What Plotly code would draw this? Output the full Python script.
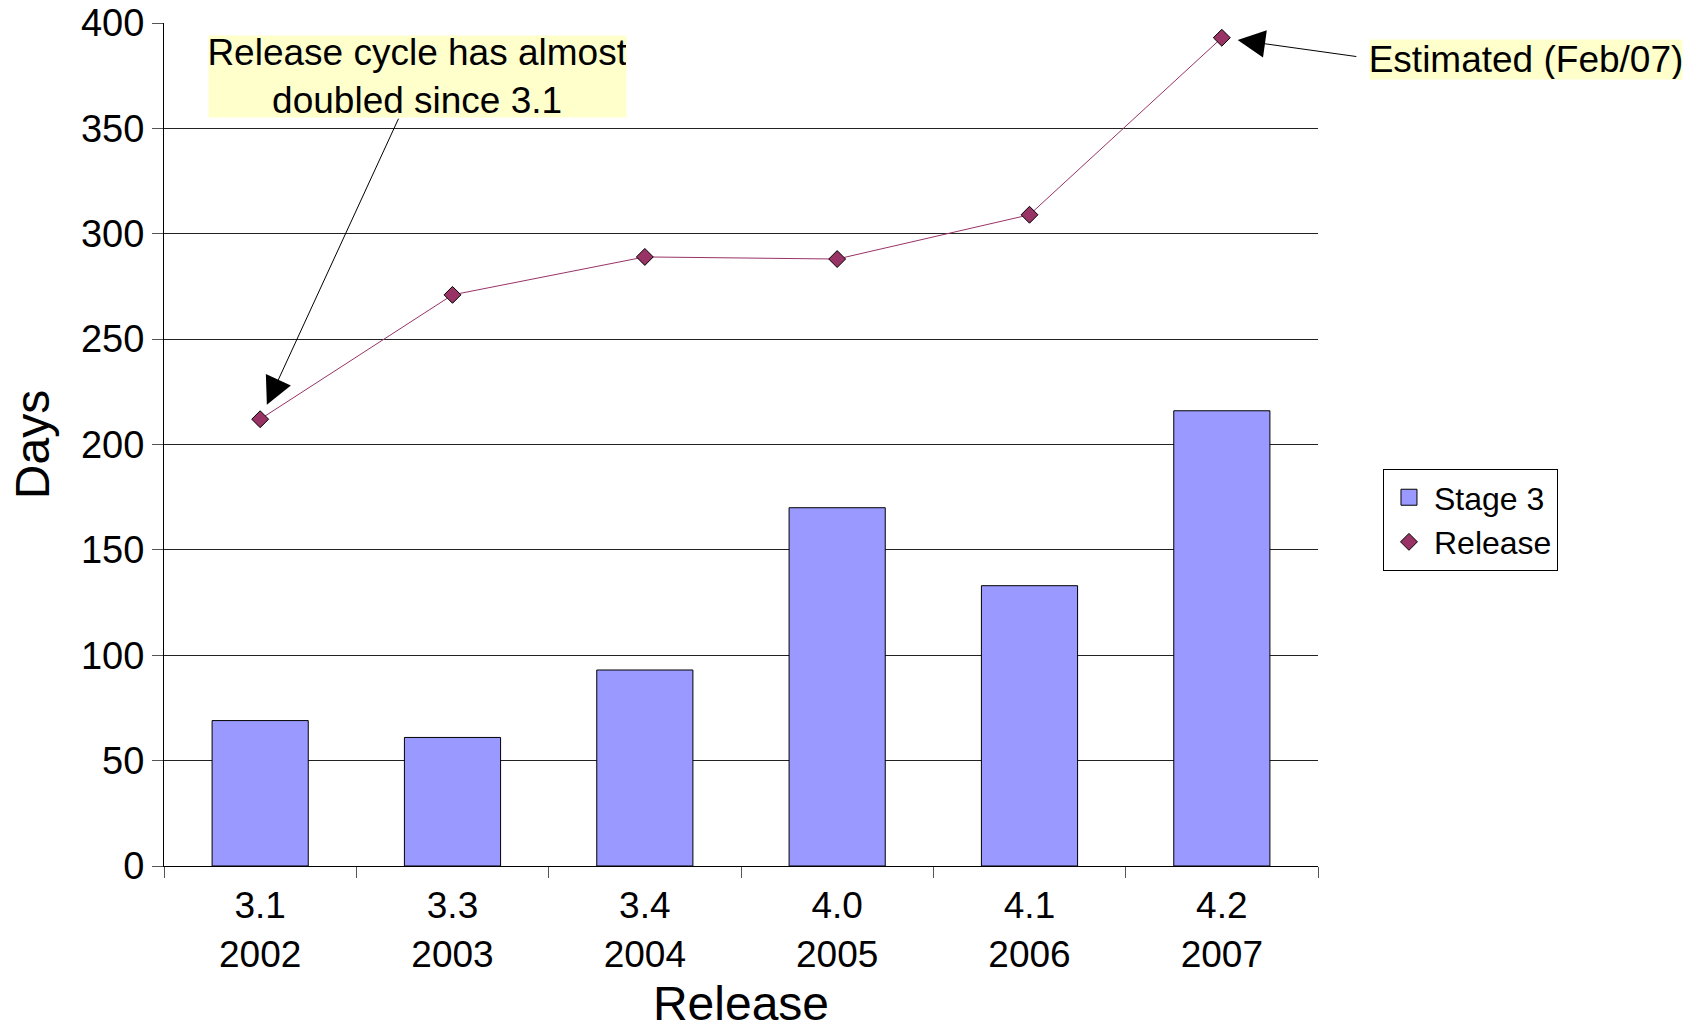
import plotly.graph_objects as go

releases = ["3.1<br>2002", "3.3<br>2003", "3.4<br>2004", "4.0<br>2005", "4.1<br>2006", "4.2<br>2007"]
stage3_days = [69, 61, 93, 170, 133, 216]
release_days = [212, 271, 289, 288, 309, 393]
y_ticks = [0, 50, 100, 150, 200, 250, 300, 350, 400]

FONT = "Liberation Sans, Arial, sans-serif"
BAR_COLOR = "#9999FF"
LINE_COLOR = "#993366"

fig = go.Figure()
fig.add_trace(go.Bar(
    x=releases, y=stage3_days, name="Stage 3", showlegend=False,
    marker=dict(color=BAR_COLOR, line=dict(color="#000000", width=1)),
))
fig.add_trace(go.Scatter(
    x=releases, y=release_days, name="Release", mode="lines+markers", showlegend=False,
    line=dict(color=LINE_COLOR, width=1),
    marker=dict(symbol="diamond", size=13, color=LINE_COLOR, line=dict(color="#000000", width=1)),
))
# legend entries (marker-only, like the original legend)
fig.add_trace(go.Scatter(
    x=[None], y=[None], name="Stage 3", mode="markers",
    marker=dict(symbol="square", size=16, color=BAR_COLOR, line=dict(color="#000000", width=1)),
))
fig.add_trace(go.Scatter(
    x=[None], y=[None], name="Release", mode="markers",
    marker=dict(symbol="diamond", size=13, color=LINE_COLOR, line=dict(color="#000000", width=1)),
))

# arrows
fig.add_annotation(x=releases[0], y=release_days[0], xref="x", yref="y", text="",
                   showarrow=True, axref="pixel", ayref="pixel", ax=139, ay=-302,
                   arrowhead=2, arrowsize=5.5, arrowwidth=1, arrowcolor="#000000", standoff=16)
fig.add_annotation(x=releases[5], y=release_days[5], xref="x", yref="y", text="",
                   showarrow=True, axref="pixel", ayref="pixel", ax=136, ay=19,
                   arrowhead=2, arrowsize=5.5, arrowwidth=1, arrowcolor="#000000", standoff=16)
# text boxes
fig.add_annotation(x=0.2196, y=0.937, xref="paper", yref="paper", xanchor="center", yanchor="middle",
                   text="Release cycle has almost<br>doubled since 3.1", showarrow=False,
                   bgcolor="#FFFFCC", font=dict(size=37, color="#000000", family=FONT),
                   width=417, height=81, borderpad=0, align="center")
fig.add_annotation(x=1.180, y=0.9567, xref="paper", yref="paper", xanchor="center", yanchor="middle",
                   text="Estimated (Feb/07)", showarrow=False,
                   bgcolor="#FFFFCC", font=dict(size=37, color="#000000", family=FONT),
                   width=312, height=39, borderpad=0, align="center")

fig.update_layout(
    width=1698, height=1030,
    margin=dict(l=164, r=380, t=23, b=164),
    paper_bgcolor="#FFFFFF", plot_bgcolor="#FFFFFF",
    font=dict(family=FONT, color="#000000", size=34),
    bargap=0.5,
    showlegend=True,
    legend=dict(x=1.0563, xanchor="left", y=0.471, yanchor="top",
                bgcolor="#FFFFFF", bordercolor="#000000", borderwidth=1,
                itemwidth=40, itemsizing="trace",
                font=dict(size=32, family=FONT, color="#000000")),
    xaxis=dict(
        type="category", range=[-0.5, 5.5], showline=True, linecolor="#000000", linewidth=1,
        ticks="outside", tickson="boundaries", ticklen=11, tickcolor="#555555",
        showgrid=False, tickfont=dict(size=37), ticklabelstandoff=7,
        title=dict(text="Release", font=dict(size=48), standoff=17),
        automargin=False,
    ),
    yaxis=dict(
        range=[0, 400], tickvals=y_ticks, showline=True, linecolor="#000000", linewidth=1,
        ticks="outside", ticklen=11, tickcolor="#555555",
        showgrid=True, gridcolor="#222222", gridwidth=1, zeroline=False,
        tickfont=dict(size=38),
        title=dict(text="Days", font=dict(size=48), standoff=16),
        automargin=False,
    ),
)

fig.write_html("out.html", config={"displayModeBar": False},
               post_script="document.body.style.margin='0';document.body.style.overflow='hidden';")
